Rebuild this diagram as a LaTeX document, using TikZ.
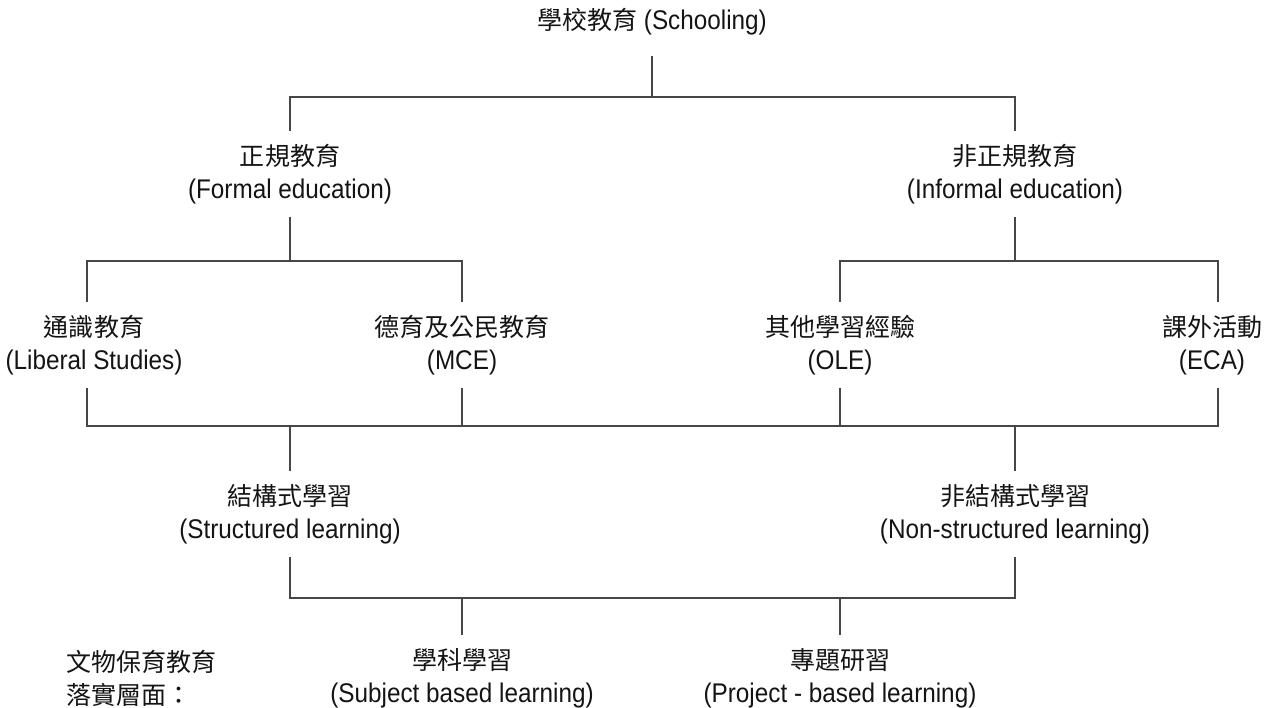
\documentclass[tikz,border=0pt]{standalone}
\usepackage{fontspec}
\setmainfont[FakeStretch=0.9]{Liberation Sans}
\newfontfamily\cjk[Scale=0.926]{Noto Sans CJK TC}

\tikzset{
    % Connector style - dark grey rules
    link/.style={line width=1.5pt, black!72},
    % Label styles
    box/.style={align=center, inner xsep=0pt, inner ysep=13pt, text=black!92,
        font=\fontsize{27}{33}\selectfont},
}

\begin{document}
\begin{tikzpicture}[x=1pt,y=-1pt]
    \useasboundingbox (0,0) rectangle (1265,708);

    % Top
    \node[box, inner ysep=20pt] (school) at (652,22) {{\cjk 學校教育} (Schooling)};

    % Formal / informal
    \node[box] (formal) at (290,174) {{\cjk 正規教育}\\(Formal education)};
    \node[box] (informal) at (1015,174) {{\cjk 非正規教育}\\(Informal education)};

    % Four strands
    \node[box] (liberal) at (94,345) {{\cjk 通識教育}\\(Liberal Studies)};
    \node[box] (mce) at (462,345) {{\cjk 德育及公民教育}\\(MCE)};
    \node[box] (ole) at (840,345) {{\cjk 其他學習經驗}\\(OLE)};
    \node[box] (eca) at (1212,345) {{\cjk 課外活動}\\(ECA)};

    % Structured / non-structured
    \node[box] (structured) at (290,514) {{\cjk 結構式學習}\\(Structured learning)};
    \node[box] (nonstructured) at (1015,514) {{\cjk 非結構式學習}\\(Non-structured learning)};

    % Bottom row
    \node[box, align=left, anchor=west] (level) at (66,678) {{\cjk 文物保育教育}\\{\cjk 落實層面：}};
    \node[box] (subject) at (462,678) {{\cjk 學科學習}\\(Subject based learning)};
    \node[box] (project) at (840,678) {{\cjk 專題研習}\\(Project - based learning)};

    % Junctions
    \coordinate (bus1) at (652,97);
    \coordinate (bus2l) at (290,261);
    \coordinate (bus2r) at (1015,261);
    \coordinate (bus3l) at (290,426);
    \coordinate (bus3r) at (1015,426);
    \coordinate (bus4l) at (462,598);
    \coordinate (bus4r) at (840,598);

    % Connectors
    \draw[link] (school.south) -- (bus1);
    \draw[link] (formal.north) |- (bus1) -| (informal.north);

    \draw[link] (formal.south) -- (bus2l);
    \draw[link] ([xshift=-7pt]liberal.north) |- (bus2l) -| (mce.north);
    \draw[link] (informal.south) -- (bus2r);
    \draw[link] (ole.north) |- (bus2r) -| ([xshift=6pt]eca.north);

    \draw[link] ([xshift=-7pt]liberal.south) |- (bus3l) -| ([xshift=6pt]eca.south);
    \draw[link] (mce.south) -- (mce.south |- bus3l);
    \draw[link] (ole.south) -- (ole.south |- bus3l);
    \draw[link] (bus3l) -- (structured.north);
    \draw[link] (bus3r) -- (nonstructured.north);

    \draw[link] (structured.south) |- (bus4l) -| (nonstructured.south);
    \draw[link] (bus4l) -- (subject.north);
    \draw[link] (bus4r) -- (project.north);
\end{tikzpicture}
\end{document}
